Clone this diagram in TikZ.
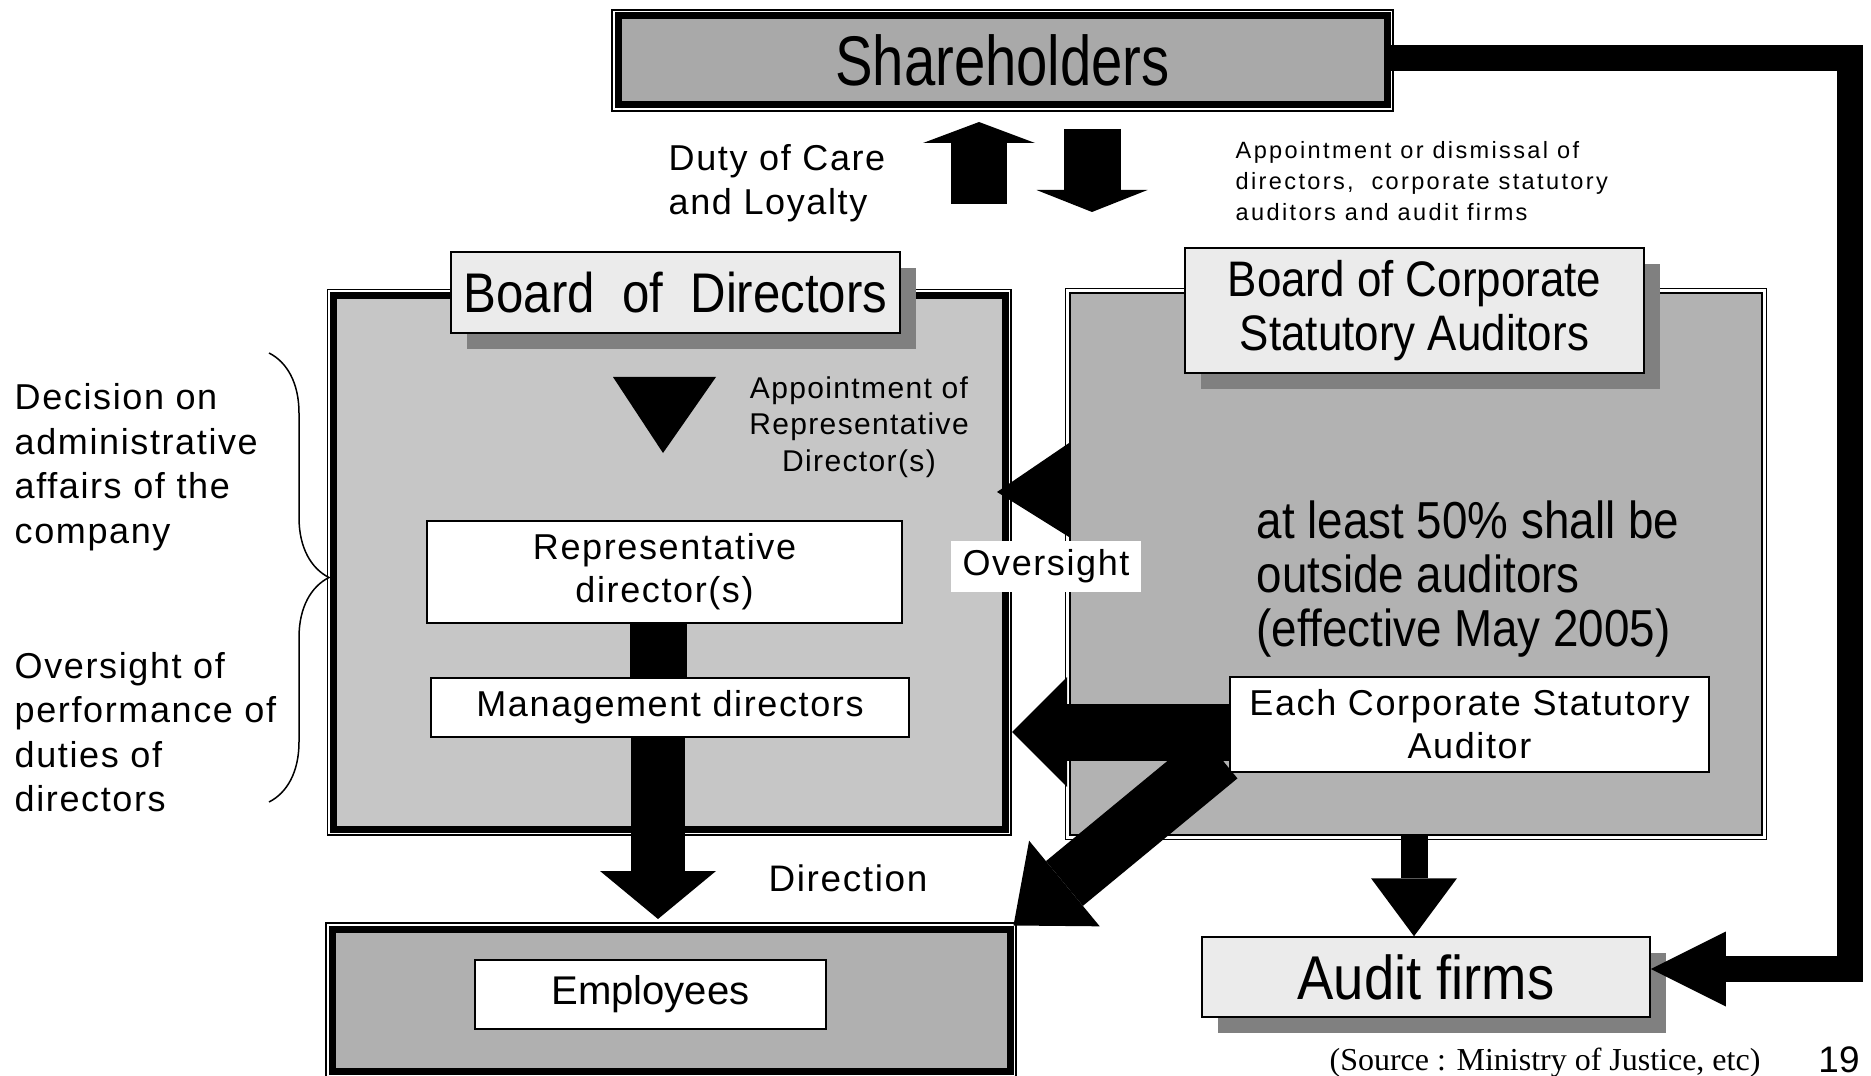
\documentclass[tikz,border=0pt]{standalone}
\usepackage{fontspec}
\setmainfont{Liberation Sans}
\newfontfamily\spfont[LetterSpace=4.5]{Liberation Sans}
\newfontfamily\dismissfont[LetterSpace=10]{Liberation Sans}
\newfontfamily\narrowfont[FakeStretch=0.88]{Liberation Sans}
\newfontfamily\sharefont[FakeStretch=0.8]{Liberation Sans}
\newfontfamily\srcfont{Liberation Serif}
\usetikzlibrary{arrows.meta}
\usetikzlibrary{shadows}
\usetikzlibrary{decorations.pathreplacing}
\definecolor{sharegray}{HTML}{A9A9A9}
\definecolor{bodgray}{HTML}{C6C6C6}
\definecolor{auditgray}{HTML}{B2B2B2}
\definecolor{empgray}{HTML}{B0B0B0}
\definecolor{titlegray}{HTML}{EBEBEB}
\definecolor{shadowgray}{HTML}{808080}
\tikzset{
    boxmain/.style = {rectangle, draw=black, line width=0.7mm, inner sep=0pt},
    boxtitle/.style = {rectangle, draw=black, line width=0.15mm, fill=titlegray, align=center, inner sep=0pt,
        drop shadow={shadow xshift=1.6mm, shadow yshift=-1.6mm, fill=shadowgray, opacity=1}},
    boxwhite/.style = {rectangle, draw=black, line width=0.15mm, fill=white, align=center, inner sep=0pt,
        font=\spfont\fontsize{10.24}{12.2}\selectfont},
    sidetext/.style = {align=left, inner sep=0pt, font=\spfont\fontsize{10.24}{12.66}\selectfont},
    edgeblock/.style n args = {3}{line width=#1, -{Triangle[length=#2, width=#3, line width=0pt]}},
    edgebar/.style = {line width=#1},
}

\begin{document}
\begin{tikzpicture}[x=0.1mm, y=-0.1mm]
\path[use as bounding box, fill=white] (0,0) rectangle (1871,1076);
%
\node[boxmain, fill=sharegray, minimum width=76.9mm, minimum height=8.9mm] (share) at (1002.5,60.5)
    {\sharefont\fontsize{20}{24}\selectfont Shareholders};
\node[boxmain, fill=bodgray, minimum width=67.15mm, minimum height=53.35mm] (bod) at (669.25,562.25) {};
\node[boxmain, fill=empgray, minimum width=67.8mm, minimum height=14.2mm] (emp) at (671,1000) {};
\node[rectangle, draw=black, line width=0.2mm, fill=auditgray, minimum width=69.2mm, minimum height=54.2mm] (bocsa) at (1416,564) {};
\foreach \b/\d in {share/2.5, bod/2.5, emp/2.5, bocsa/3.5}
    \draw[line width=0.13mm] ([shift={(-\d,-\d)}]\b.north west) rectangle ([shift={(\d,\d)}]\b.south east);
%
\node[boxtitle, minimum width=44.9mm, minimum height=8.1mm, font=\narrowfont\fontsize{15.9}{19}\selectfont] (bodtitle) at (675.5,292.5) {Board\ \ of\ \ Directors};
\node[boxtitle, minimum width=45.9mm, minimum height=12.5mm, font=\narrowfont\fontsize{14.2}{15.4}\selectfont] (bocsatitle) at (1414.5,310.5) {Board of Corporate\\Statutory Auditors};
\node[boxtitle, minimum width=44.8mm, minimum height=8mm, font=\narrowfont\fontsize{17.6}{20}\selectfont] (audit) at (1426,977) {Audit firms};
\node[boxwhite, minimum width=47.5mm, minimum height=10.2mm] (rep) at (664.5,572) {Representative\\director(s)};
\node[boxwhite, minimum width=47.8mm, minimum height=5.9mm] (mgmt) at (670,707.5) {Management directors};
\node[boxwhite, minimum width=47.9mm, minimum height=9.5mm] (ecsa) at (1469.5,724.5) {Each Corporate Statutory\\Auditor};
\node[boxwhite, minimum width=35.1mm, minimum height=6.9mm, font=\fontsize{11.4}{13}\selectfont] (empin) at (650.5,994.5) {Employees};
%
\coordinate (dutyup) at (979,122);
\coordinate (dutydown) at (1092,212);
\coordinate (dirtip) at (658,919);
\coordinate (sharecorner) at (1850,58);
\coordinate (auditin) at ([yshift=0.8mm]audit.east);
\coordinate (ovtip) at (1012,732);
\coordinate (diagstart) at (1219,756);
\coordinate (audx) at (1414,0);
%
\draw[edgeblock={5.6mm}{2.1mm}{11.2mm}] (dutyup |- 0,204) -- (dutyup);
\draw[edgeblock={5.7mm}{2.2mm}{11.1mm}] (dutydown |- 0,129) -- (dutydown);
\draw[edgeblock={2.6mm}{7.5mm}{7.5mm}] (share.east |- sharecorner) -| (auditin -| sharecorner) -- (auditin);
\draw[edgebar=5.7mm] (rep.south -| dirtip) -- (mgmt.north -| dirtip);
\draw[edgeblock={5.4mm}{4.8mm}{11.6mm}] (mgmt.south -| dirtip) -- (dirtip);
\draw[edgeblock={5.7mm}{5.5mm}{11mm}] (ecsa.west |- ovtip) -- (ovtip);
\draw[edgeblock={5.8mm}{6.6mm}{11.1mm}] (diagstart) -- (emp.north east);
\draw[edgeblock={2.7mm}{5.8mm}{8.6mm}] (bocsa.south -| audx) -- (audit.north -| audx);
\fill (613,377) -- (716,377) -- (663,453) -- cycle;
\fill (1069,443) -- (997,492) -- (1069,537) -- cycle;
%
\draw[line width=0.15mm, decorate, decoration={brace, amplitude=6mm}] (269,353) -- (269,802);
\node[sidetext, anchor=west] (decision) at (14,467) {Decision on\\administrative\\affairs of the\\company};
\node[sidetext, anchor=west] (oversightof) at (14,732) {Oversight of\\performance of\\duties of\\directors};
\node[sidetext, anchor=west] (duty) at (668,183) {Duty of Care\\and Loyalty};
\node[anchor=west, align=left, inner sep=0pt, font=\dismissfont\fontsize{6.7}{8.8}\selectfont] (dismiss) at (1235,181)
    {Appointment or dismissal of\\directors,\ \ corporate statutory\\auditors and audit firms};
\node[align=center, inner sep=0pt, font=\spfont\fontsize{8.54}{10.4}\selectfont] (appoint) at (859,427)
    {Appointment of\\Representative\\Director(s)};
\node[inner sep=0pt, font=\spfont\fontsize{10.5}{12}\selectfont] (direction) at (848,878) {Direction};
\node[anchor=west, align=left, inner sep=0pt, font=\narrowfont\fontsize{14.8}{15.4}\selectfont] (outside) at (1256,579)
    {at least 50\% shall be\\outside auditors\\(effective May 2005)};
\node[fill=white, minimum width=19mm, minimum height=5.1mm, inner sep=0pt, font=\spfont\fontsize{10.24}{12}\selectfont] (oversight) at (1046,566.5) {Oversight};
\node[anchor=base, inner sep=0pt, font=\srcfont\fontsize{9.1}{11}\selectfont] (source) at (1545,1070) {(Source : Ministry of Justice, etc)};
\node[anchor=base, inner sep=0pt, font=\fontsize{10.5}{12}\selectfont] (pagenum) at (1839,1072) {19};

\end{tikzpicture}
\end{document}
